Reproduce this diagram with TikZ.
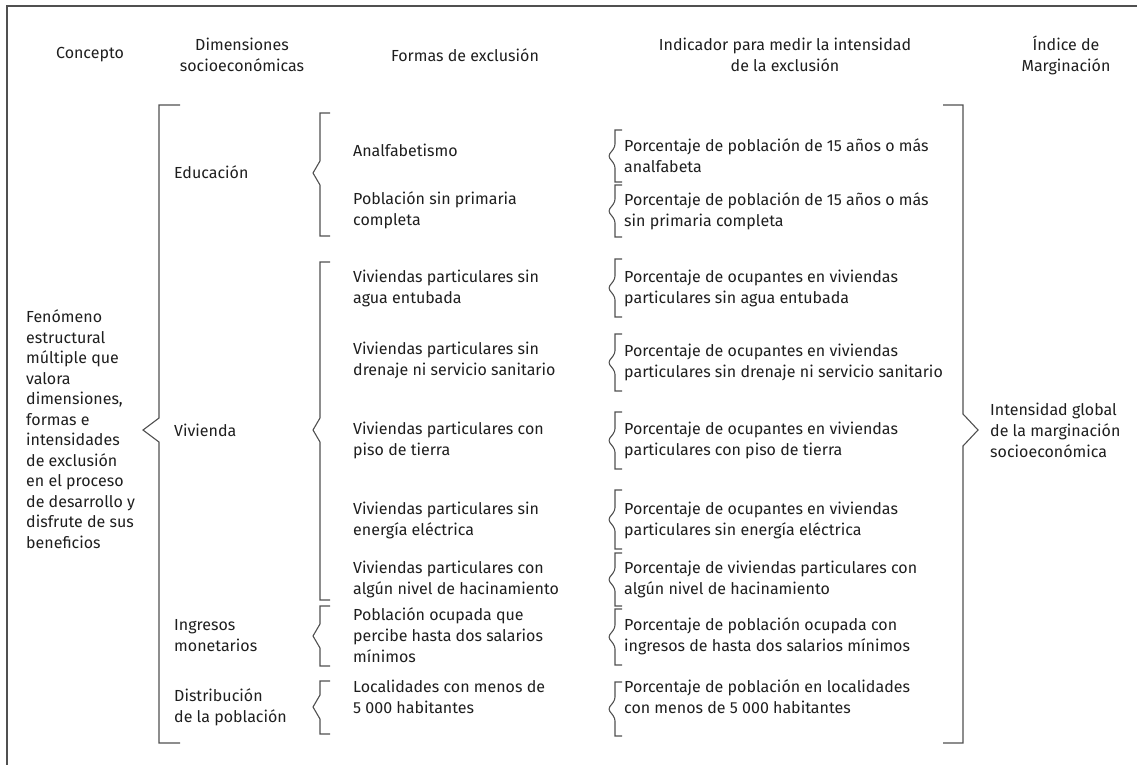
\documentclass[tikz,border=0pt]{standalone}
\usepackage{fontspec}
\setmainfont{Fira Sans}
\usetikzlibrary{positioning}
\definecolor{txtgray}{HTML}{1E1E1E}
\definecolor{linegray}{HTML}{505050}
\tikzstyle{head} = [align=center, text=txtgray, inner sep=0pt]
\tikzstyle{item} = [anchor=west, align=left, text=txtgray, inner sep=0pt]
\tikzstyle{brak} = [line width=1.1pt, draw=linegray, line join=miter]
\tikzstyle{frame} = [line width=2pt, draw=linegray]

\begin{document}
\begin{tikzpicture}[x=1pt, y=-1pt, font=\fontsize{16}{21}\selectfont]
	\useasboundingbox (0,0) rectangle (1137,765);
	\draw[frame] (7,765) -- (7,6) -- (1137,6);

	% encabezados
	\node[head] (concepto) at (90,55) {Concepto};
	\node[head] (dimensiones) at (242,55) {Dimensiones\\socioeconómicas};
	\node[head] (formas) at (465,55) {Formas de exclusión};
	\node[head] (indicador) at (785,55) {Indicador para medir la intensidad\\de la exclusión};
	\node[head] (indice) at (1066,55) {Índice de\\Marginación};

	% concepto
	\node[item, font=\fontsize{16}{20.5}\selectfont] (fenomeno) at (26,429) {Fenómeno\\estructural\\múltiple que\\valora\\dimensiones,\\formas e\\intensidades\\de exclusión\\en el proceso\\de desarrollo y\\disfrute de sus\\beneficios};

	% dimensiones
	\node[item] (educacion) at (174,172) {Educación};
	\node[item] (vivienda) at (174,430) {Vivienda};
	\node[item] (ingresos) at (174,636) {Ingresos\\monetarios};
	\node[item] (distribucion) at (174,707) {Distribución\\de la población};

	% formas de exclusion
	\node[item] (analfa) at (353,150) {Analfabetismo};
	\node[item] (primaria) at (353,210) {Población sin primaria\\completa};
	\node[item] (agua) at (353,288) {Viviendas particulares sin\\agua entubada};
	\node[item] (drenaje) at (353,360) {Viviendas particulares sin\\drenaje ni servicio sanitario};
	\node[item] (piso) at (353,440) {Viviendas particulares con\\piso de tierra};
	\node[item] (energia) at (353,520) {Viviendas particulares sin\\energía eléctrica};
	\node[item] (hacina) at (353,579) {Viviendas particulares con\\algún nivel de hacinamiento};
	\node[item] (salarios) at (353,635) {Población ocupada que\\percibe hasta dos salarios\\mínimos};
	\node[item] (localidades) at (353,697) {Localidades con menos de\\5 000 habitantes};

	% indicadores
	\node[item] (ind-analfa) at (624,156) {Porcentaje de población de 15 años o más\\analfabeta};
	\node[item] (ind-primaria) at (624,211) {Porcentaje de población de 15 años o más\\sin primaria completa};
	\node[item] (ind-agua) at (624,288) {Porcentaje de ocupantes en viviendas\\particulares sin agua entubada};
	\node[item] (ind-drenaje) at (624,362) {Porcentaje de ocupantes en viviendas\\particulares sin drenaje ni servicio sanitario};
	\node[item] (ind-piso) at (624,440) {Porcentaje de ocupantes en viviendas\\particulares con piso de tierra};
	\node[item] (ind-energia) at (624,520) {Porcentaje de ocupantes en viviendas\\particulares sin energía eléctrica};
	\node[item] (ind-hacina) at (624,579) {Porcentaje de viviendas particulares con\\algún nivel de hacinamiento};
	\node[item] (ind-salarios) at (624,636) {Porcentaje de población ocupada con\\ingresos de hasta dos salarios mínimos};
	\node[item] (ind-localidades) at (624,697) {Porcentaje de población en localidades\\con menos de 5 000 habitantes};

	% indice
	\node[item] (intensidad) at (990,430) {Intensidad global\\de la marginación\\socioeconómica};

	% llaves grandes
	\draw[brak] (180,105) -- (159,105) -- (159,418) -- (143,430) -- (159,442) -- (159,743) -- (180,743);
	\draw[brak] (943,105) -- (963,105) -- (963,414) -- (978,430) -- (963,446) -- (963,743) -- (943,743);

	% llaves de formas
	\foreach \t/\m/\b in {113/173/236, 262/430/600, 606/636/666, 681/707/734}
		\draw[brak] (330,\t) -- (320,\t) -- (320,\m-12) -- (313,\m) -- (320,\m+12) -- (320,\b) -- (330,\b);

	% llaves de indicadores
	\foreach \t/\b in {130/182, 185/237, 259/317, 334/391, 412/469, 490/549, 553/606, 609/665, 682/736}
		\draw[brak] (622,\t) -- (615,\t) [rounded corners=3pt] -- (615,{(\t+\b)/2-9}) -- (608,{(\t+\b)/2}) -- (615,{(\t+\b)/2+9}) [sharp corners] -- (615,\b) -- (622,\b);
\end{tikzpicture}
\end{document}
